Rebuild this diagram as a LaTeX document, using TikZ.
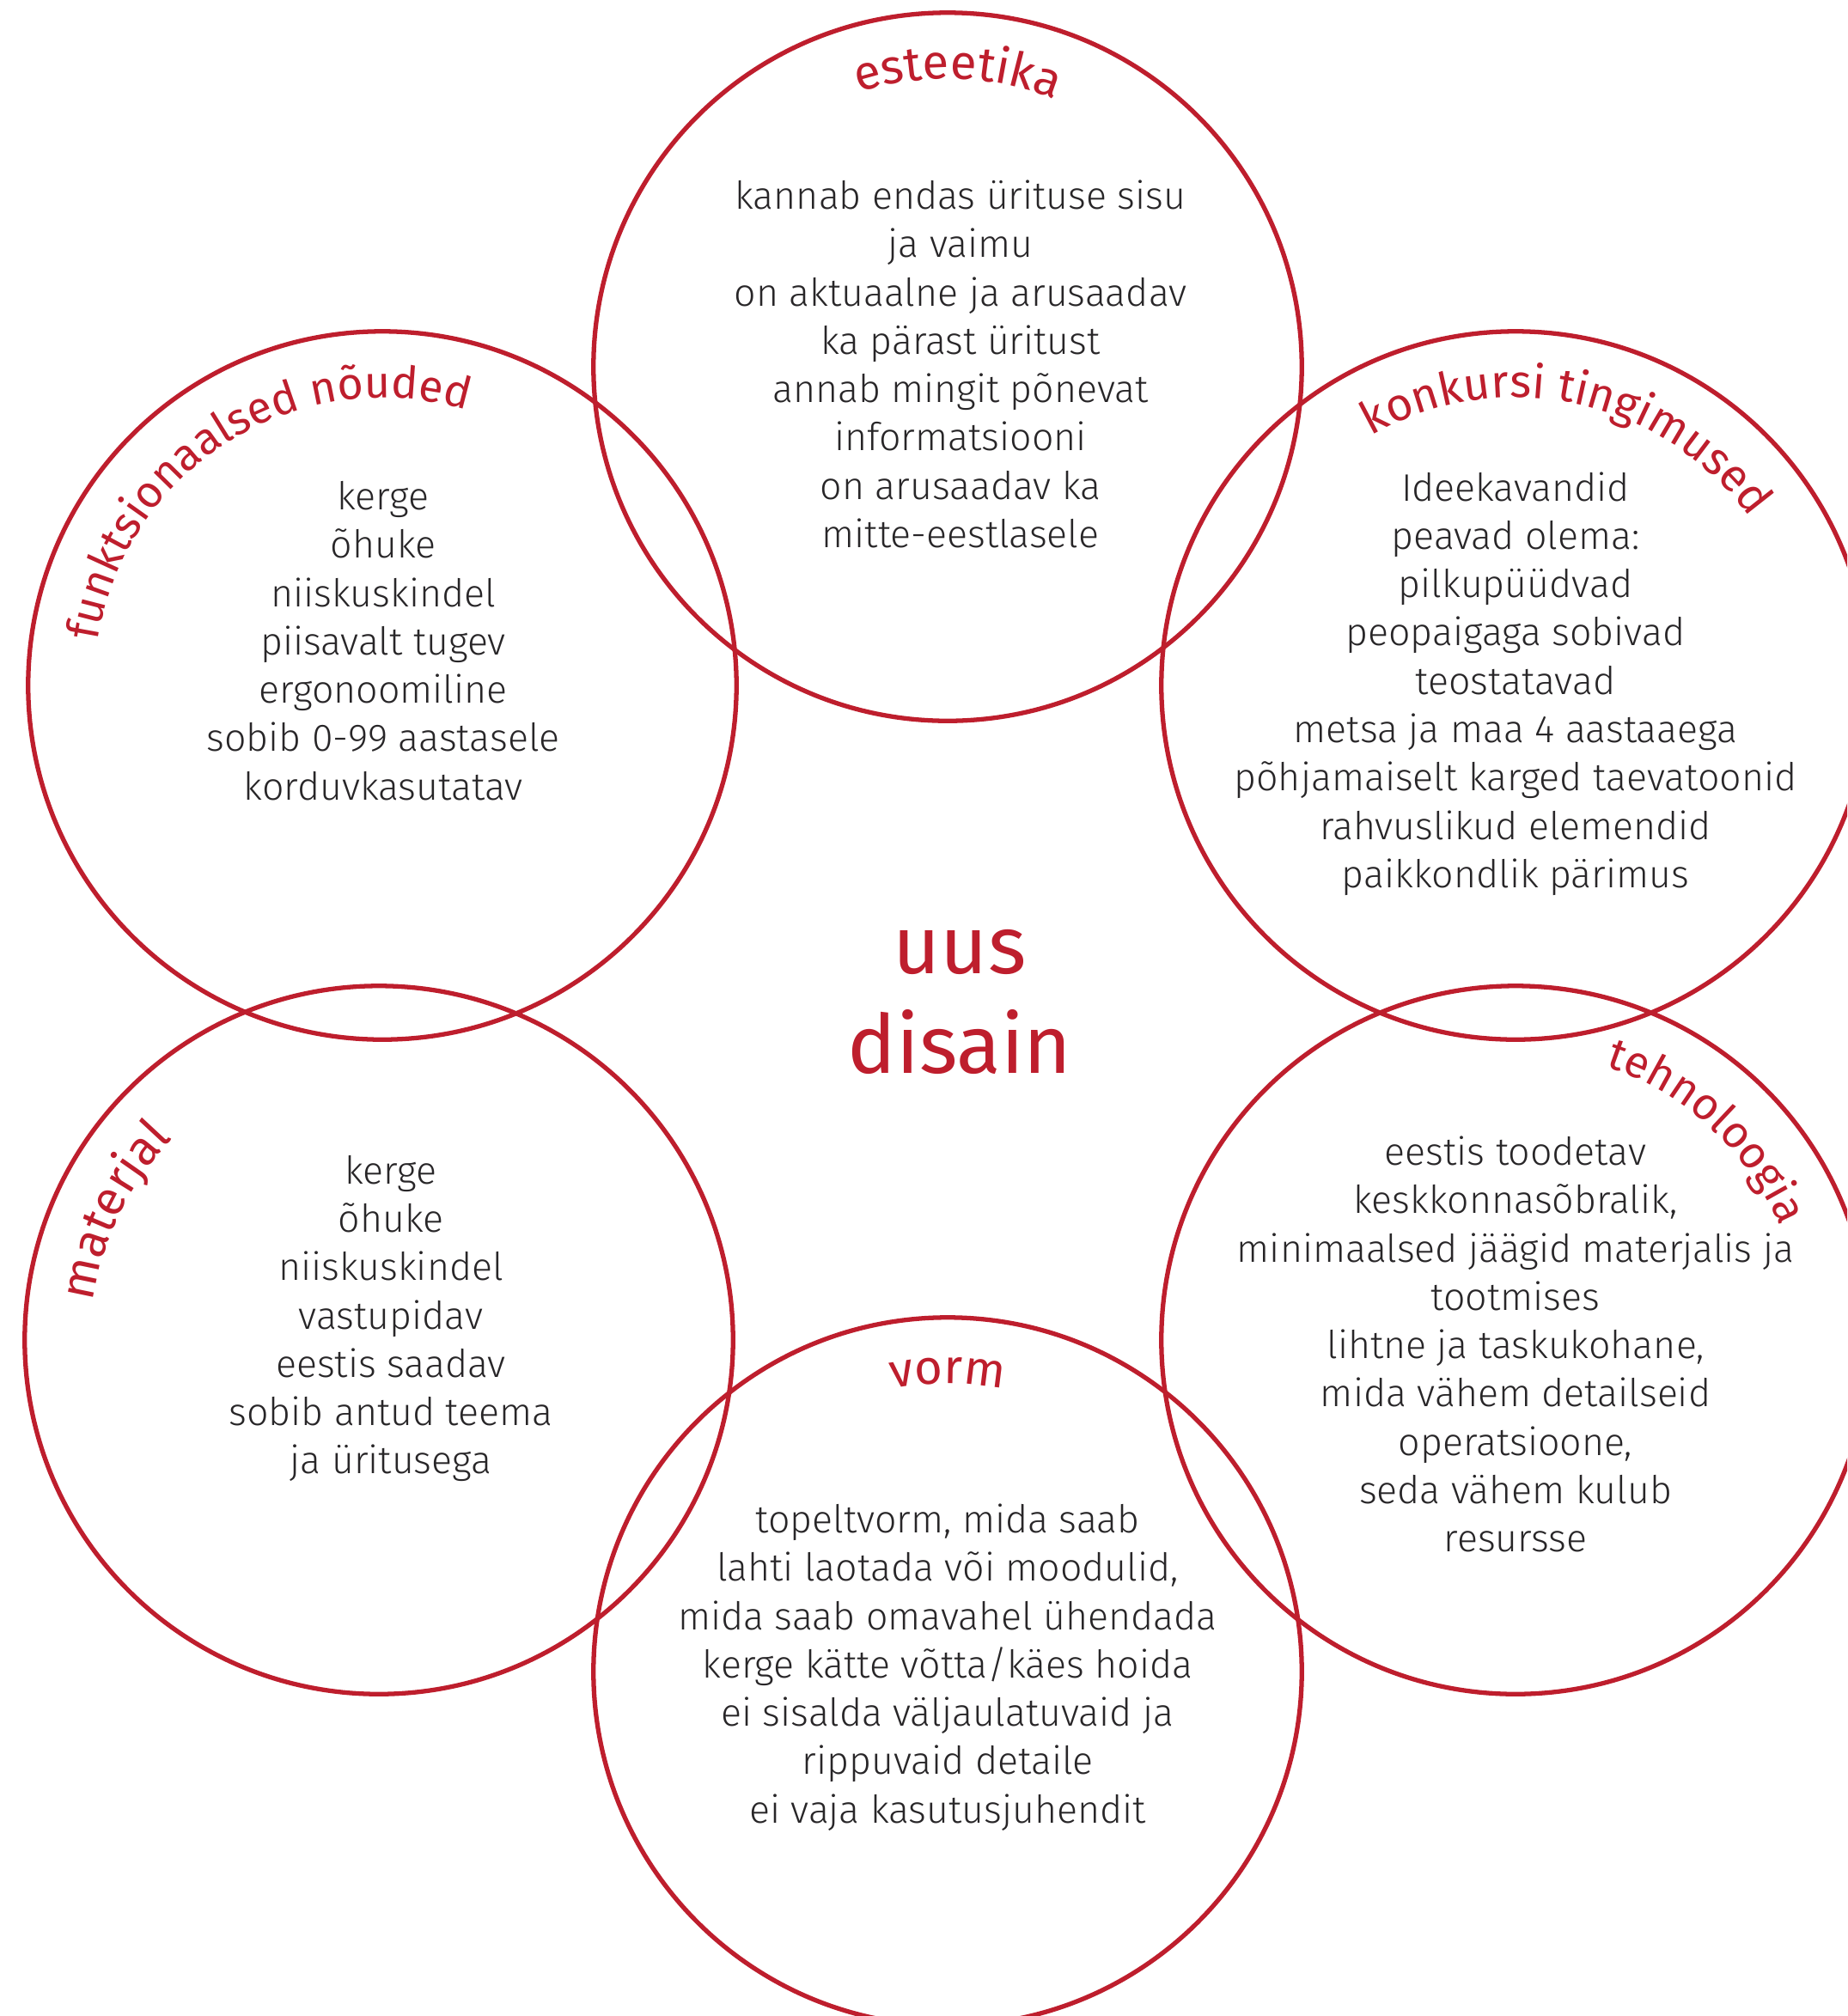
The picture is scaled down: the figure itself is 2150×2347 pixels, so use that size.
\documentclass[tikz,border=0pt]{standalone}
\usepackage{fontspec}
\setmainfont{Fira Sans Light}
\newfontfamily\titlefont{Fira Sans}
\usetikzlibrary{decorations.text}
\definecolor{dred}{RGB}{190,30,45}
\definecolor{ink}{RGB}{40,38,40}
\newcommand\ttlfmt[1]{\titlefont\fontsize{#1}{#1}\selectfont\color{dred}}
\begin{document}
\begin{tikzpicture}[x=0.01cm,y=0.01cm,
  ring/.style={circle, draw=dred, line width=1.5pt, minimum size=8.24cm, inner sep=0pt},
  body/.style={align=center, text=ink, font=\fontsize{12.7pt}{16pt}\selectfont, inner sep=0pt}]
\useasboundingbox (0,0) rectangle (2150,-2347);
\clip (0,0) rectangle (2150,-2347);
% circles
\node[ring] (est) at (1103,-427) {};
\node[ring] (fun) at (445,-798) {};
\node[ring] (kon) at (1764,-798) {};
\node[ring] (mat) at (441,-1560) {};
\node[ring] (teh) at (1764,-1560) {};
\node[ring] (vor) at (1103,-1946) {};
% titles along arcs
\path[decorate, decoration={text along path, text align=center, text={|\ttlfmt{16pt}|esteetika}}]
  (est.center) ++(168:3.35cm) arc[start angle=168, end angle=8, radius=3.35cm];
\path[decorate, decoration={text along path, text align=center, text={|\ttlfmt{14.8pt}|funktsionaalsed nõuded}}]
  (fun.center) ++(202:3.35cm) arc[start angle=202, end angle=42, radius=3.35cm];
\path[decorate, decoration={text along path, text align=center, text={|\ttlfmt{15.2pt}|konkursi tingimused}}]
  (kon.center) ++(157.8:3.35cm) arc[start angle=157.8, end angle=-2.2, radius=3.35cm];
\path[decorate, decoration={text along path, text align=center, text={|\ttlfmt{14.8pt}|tehnoloogia}}]
  (teh.center) ++(127.5:3.35cm) arc[start angle=127.5, end angle=-32.5, radius=3.35cm];
\path[decorate, decoration={text along path, text align=center, text={|\ttlfmt{16pt}|materjal}}]
  (mat.center) ++(234:3.35cm) arc[start angle=234, end angle=74, radius=3.35cm];
\path[decorate, decoration={text along path, text align=center, text={|\ttlfmt{16pt}|vorm}}]
  (vor.center) ++(170:3.35cm) arc[start angle=170, end angle=10, radius=3.35cm];
% body texts
\node[body] (estt) at (1118,-424) {kannab endas ürituse sisu\\ja vaimu\\on aktuaalne ja arusaadav\\ka pärast üritust\\annab mingit põnevat\\informatsiooni\\on arusaadav ka\\mitte-eestlasele};
\node[body] (funt) at (446,-746) {kerge\\õhuke\\niiskuskindel\\piisavalt tugev\\ergonoomiline\\sobib 0-99 aastasele\\korduvkasutatav};
\node[body] (kont) at (1764,-796) {Ideekavandid\\peavad olema:\\pilkupüüdvad\\peopaigaga sobivad\\teostatavad\\metsa ja maa 4 aastaaega\\põhjamaiselt karged taevatoonid\\rahvuslikud elemendid\\paikkondlik pärimus};
\node[body] (matt) at (455,-1535) {kerge\\õhuke\\niiskuskindel\\vastupidav\\eestis saadav\\sobib antud teema\\ja üritusega};
\node[body] (teht) at (1764,-1565) {eestis toodetav\\keskkonnasõbralik,\\minimaalsed jäägid materjalis ja\\tootmises\\lihtne ja taskukohane,\\mida vähem detailseid\\operatsioone,\\seda vähem kulub\\resursse};
\node[body] (vort) at (1103,-1941) {topeltvorm, mida saab\\lahti laotada või moodulid,\\mida saab omavahel ühendada\\kerge kätte võtta/käes hoida\\ei sisalda väljaulatuvaid ja\\rippuvaid detaile\\ei vaja kasutusjuhendit};
% centre
\node[text=dred, align=center, inner sep=0pt, font=\titlefont\fontsize{27pt}{33pt}\selectfont] (uus) at (1117,-1166) {uus\\disain};
\end{tikzpicture}
\end{document}
